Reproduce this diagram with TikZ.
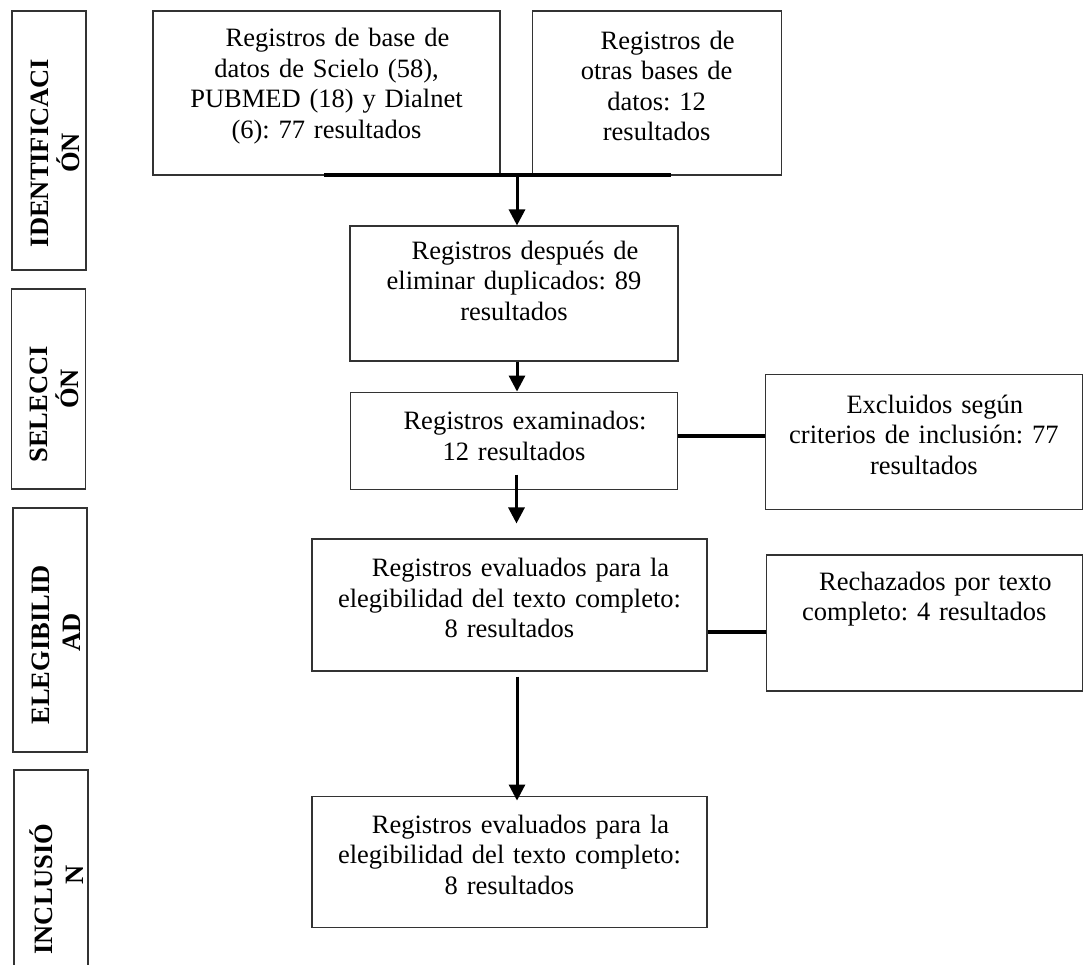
\documentclass[tikz,border=0pt]{standalone}
\usepackage{fontspec}
\setmainfont{Liberation Serif}
\frenchspacing
\usetikzlibrary{arrows.meta,positioning}

\begin{document}
\begin{tikzpicture}[
    x=1pt, y=-1pt,
    box/.style={draw=black!80, line width=1.1pt, inner sep=0pt, align=center,
      font=\fontsize{26.5}{30.5}\selectfont,
      execute at begin node={\hspace*{22pt}},
      execute at end node={\endgraf\kern#1}},
    box/.default=14pt,
    stage/.style={draw=black!80, line width=1.1pt, inner sep=0pt, align=center,
      rotate=90, minimum height=74pt, font=\fontsize{26.5}{31}\selectfont\bfseries,
      execute at end node={\endgraf\kern-12pt}},
    arrow/.style={-{Triangle[length=16pt, width=16pt]}, line width=3pt},
    link/.style={line width=3.3pt}
  ]
    \useasboundingbox (0,0) rectangle (1083,964);

    % stage labels
    \node[stage, minimum width=259pt, text width=259pt] (ident) at (49,140.5)
      {IDENTIFICACI\hspace*{25pt}\mbox{}\\ÓN\hspace*{25pt}\mbox{}};
    \node[stage, minimum width=200pt, text width=200pt] (selec) at (48.5,389)
      {SELECCI\hspace*{31pt}\mbox{}\\ÓN};
    \node[stage, minimum width=244pt, text width=244pt] (elegi) at (50,630)
      {ELEGIBILID\hspace*{30pt}\mbox{}\\AD\hspace*{4pt}\mbox{}};
    \node[stage, minimum width=205pt, text width=205pt] (inclu) at (51,872.5)
      {INCLUSIÓ\hspace*{33pt}\mbox{}\\N\hspace*{5pt}\mbox{}};

    % flow boxes
    \node[box, text width=347pt, minimum height=164pt] (scielo) at (326.5,93)
      {Registros de base de\\datos de Scielo (58),\\PUBMED (18) y Dialnet\\(6): 77 resultados};
    \node[box, text width=249pt, minimum height=164pt, right=31pt of scielo] (otras)
      {Registros de\\otras bases de\\datos: 12\\resultados};
    \node[box=26pt, text width=328pt, minimum height=135pt] (dupl) at (514,293.5)
      {Registros después de\\eliminar duplicados: 89\\resultados};
    \node[box=9pt, text width=327pt, minimum height=97pt, below=30pt of dupl] (exam)
      {Registros examinados:\\12 resultados};
    \node[box, text width=316.5pt, minimum height=135pt, right=87pt of exam, yshift=-1pt] (excl)
      {Excluidos según\\criterios de inclusión: 77\\resultados};
    \node[box, text width=395pt, minimum height=132pt] (eval) at (509.5,605)
      {Registros evaluados para la\\elegibilidad del texto completo:\\8 resultados};
    \node[box=48pt, text width=316.5pt, minimum height=136pt, right=58pt of eval, yshift=-18pt] (rech)
      {Rechazados por texto\\completo: 4 resultados};
    \node[box, text width=395pt, minimum height=131pt, below=124pt of eval] (incl)
      {Registros evaluados para la\\elegibilidad del texto completo:\\8 resultados};

    % connectors
    \coordinate (mergeL) at (324,175);
    \coordinate (mergeR) at (671,175);
    \coordinate (join) at (517,175);
    \draw[link] (mergeL) -- (mergeR);
    \draw[arrow] (join) -- (join |- dupl.north);
    \draw[arrow] ([xshift=3pt]dupl.south) -- ([xshift=3pt]dupl.south |- exam.north);
    \draw[link] ([yshift=4.5pt]exam.east) -- ([yshift=4.5pt]exam.east -| excl.west);
    \draw[arrow] ([xshift=2.5pt,yshift=15pt]exam.south) -- ([xshift=2.5pt,yshift=15pt]exam.south |- eval.north);
    \draw[link] ([yshift=-27pt]eval.east) -- ([yshift=-27pt]eval.east -| rech.west);
    \draw[arrow] ([xshift=7.5pt,yshift=-5pt]eval.south) -- ([xshift=7.5pt,yshift=-5pt]eval.south |- incl.north);
\end{tikzpicture}
\end{document}
